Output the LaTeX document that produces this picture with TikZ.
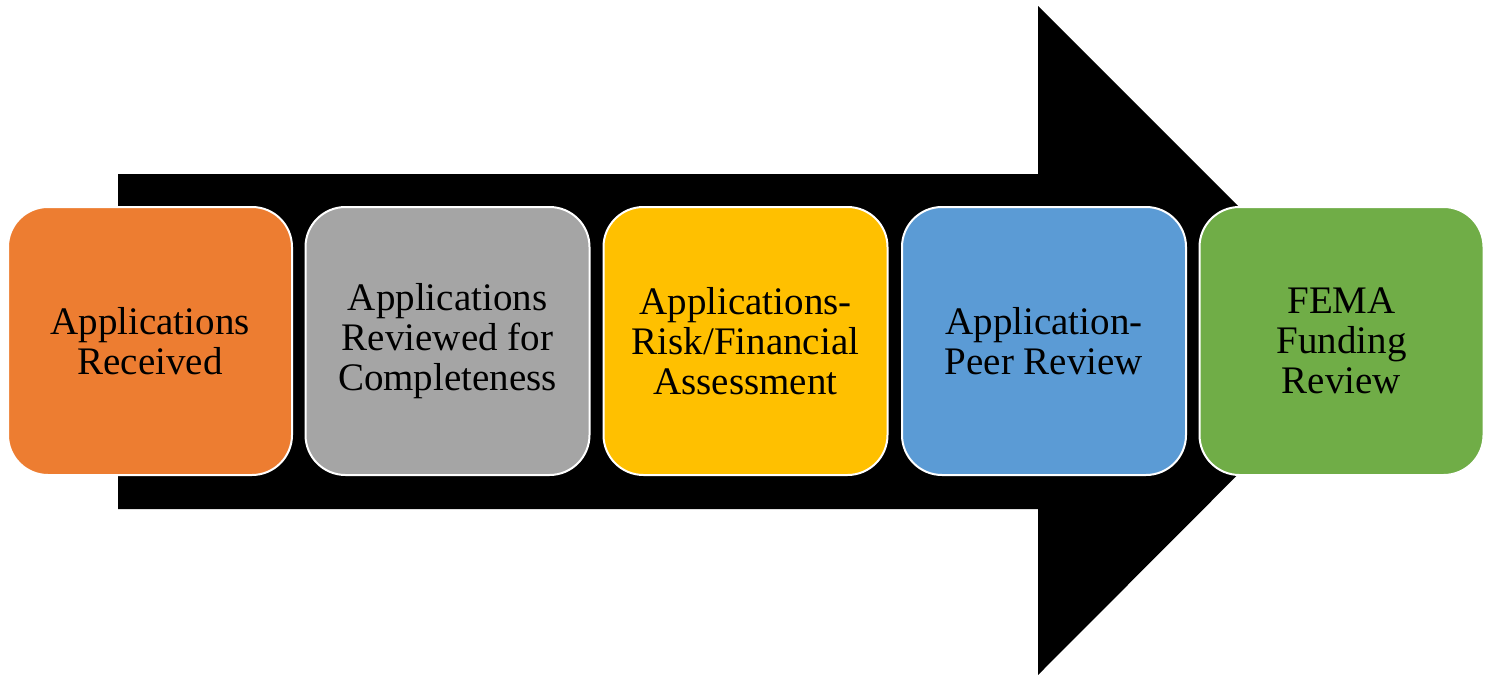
\documentclass[tikz,border=0pt]{standalone}
\usepackage{fontspec}
\setmainfont{Liberation Serif}
\definecolor{cOrange}{HTML}{ED7D31}
\definecolor{cGray}{HTML}{A5A5A5}
\definecolor{cYellow}{HTML}{FFC000}
\definecolor{cBlue}{HTML}{5B9BD5}
\definecolor{cGreen}{HTML}{70AD47}
\tikzset{
  stagebox/.style={draw=white, line width=2pt, rounded corners=40pt,
    minimum width=284pt, minimum height=268pt, inner sep=0pt,
    align=center, text=black, font=\fontsize{39}{40}\selectfont},
}
\begin{document}
\begin{tikzpicture}[x=1pt,y=-1pt]
\useasboundingbox (0,0) rectangle (1492,675);
\fill[black] (118,174) -- (1038,174) -- (1038,6) -- (1372,340) -- (1038,675)
  -- (1038,509) -- (118,509) -- cycle;
\node[stagebox, fill=cOrange] (s1) at (150,341) {Applications\\Received};
\node[stagebox, fill=cGray] (s2) at (447.5,341) {Applications\\Reviewed for\\Completeness};
\node[stagebox, fill=cYellow] (s3) at (745.5,341) {Applications-\\Risk/Financial\\Assessment};
\node[stagebox, fill=cBlue] (s4) at (1044,341) {Application-\\Peer Review};
\node[stagebox, fill=cGreen] (s5) at (1341.5,341) {FEMA\\Funding\\Review};
\end{tikzpicture}
\end{document}
